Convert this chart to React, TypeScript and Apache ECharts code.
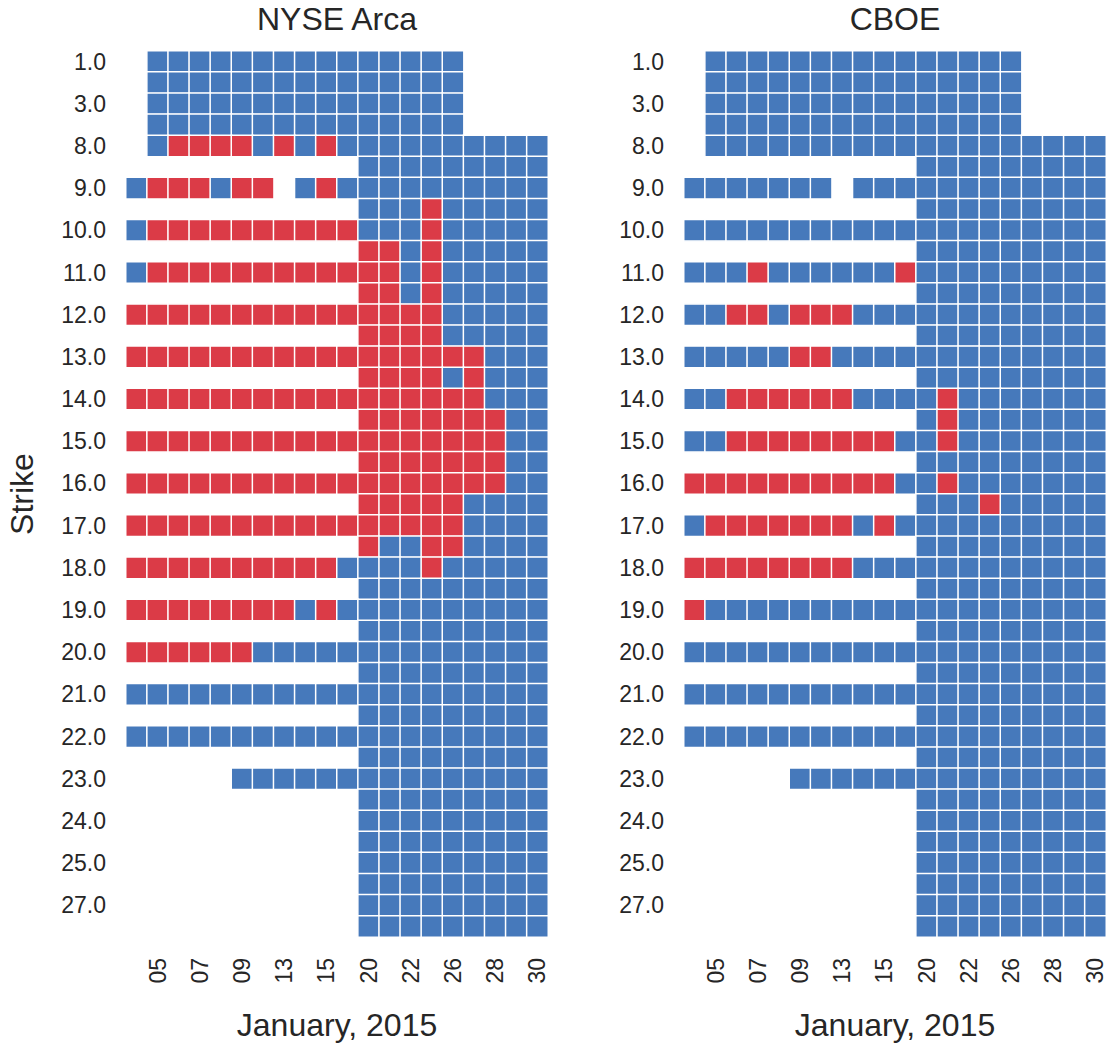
import React, { useEffect, useRef } from "react";
import * as echarts from "echarts";

// Trading days of January 2015 (columns)
const tradingDays = [
  "02", "05", "06", "07", "08", "09", "12", "13", "14", "15",
  "16", "20", "21", "22", "23", "26", "27", "28", "29", "30",
];

// Strike prices (rows, top to bottom)
const strikes = [
  "1.0", "2.0", "3.0", "5.0", "8.0", "8.5", "9.0", "9.5", "10.0", "10.5",
  "11.0", "11.5", "12.0", "12.5", "13.0", "13.5", "14.0", "14.5", "15.0", "15.5",
  "16.0", "16.5", "17.0", "17.5", "18.0", "18.5", "19.0", "19.5", "20.0", "20.5",
  "21.0", "21.5", "22.0", "22.5", "23.0", "23.5", "24.0", "24.5", "25.0", "26.0",
  "27.0", "28.0",
];

// One string per strike, one character per trading day:
// "B" = 0 (blue), "R" = 1 (red), "." = no quote
const nyseArcaRows = [
  ".BBBBBBBBBBBBBBB....",
  ".BBBBBBBBBBBBBBB....",
  ".BBBBBBBBBBBBBBB....",
  ".BBBBBBBBBBBBBBB....",
  ".BRRRRBRBRBBBBBBBBBB",
  "...........BBBBBBBBB",
  "BRRRBRR.BRBBBBBBBBBB",
  "...........BBBRBBBBB",
  "BRRRRRRRRRRBBBRBBBBB",
  "...........RRBRBBBBB",
  "BRRRRRRRRRRRRBRBBBBB",
  "...........RRBRBBBBB",
  "RRRRRRRRRRRRRRRBBBBB",
  "...........RRRRBBBBB",
  "RRRRRRRRRRRRRRRRRBBB",
  "...........RRRRBRBBB",
  "RRRRRRRRRRRRRRRRRBBB",
  "...........RRRRRRRBB",
  "RRRRRRRRRRRRRRRRRRBB",
  "...........RRRRRRRBB",
  "RRRRRRRRRRRRRRRRRRBB",
  "...........RRRRRBBBB",
  "RRRRRRRRRRRRRRRRBBBB",
  "...........RBBRRBBBB",
  "RRRRRRRRRRBBBBRBBBBB",
  "...........BBBBBBBBB",
  "RRRRRRRRBRBBBBBBBBBB",
  "...........BBBBBBBBB",
  "RRRRRRBBBBBBBBBBBBBB",
  "...........BBBBBBBBB",
  "BBBBBBBBBBBBBBBBBBBB",
  "...........BBBBBBBBB",
  "BBBBBBBBBBBBBBBBBBBB",
  "...........BBBBBBBBB",
  ".....BBBBBBBBBBBBBBB",
  "...........BBBBBBBBB",
  "...........BBBBBBBBB",
  "...........BBBBBBBBB",
  "...........BBBBBBBBB",
  "...........BBBBBBBBB",
  "...........BBBBBBBBB",
  "...........BBBBBBBBB",
];

const cboeRows = [
  ".BBBBBBBBBBBBBBB....",
  ".BBBBBBBBBBBBBBB....",
  ".BBBBBBBBBBBBBBB....",
  ".BBBBBBBBBBBBBBB....",
  ".BBBBBBBBBBBBBBBBBBB",
  "...........BBBBBBBBB",
  "BBBBBBB.BBBBBBBBBBBB",
  "...........BBBBBBBBB",
  "BBBBBBBBBBBBBBBBBBBB",
  "...........BBBBBBBBB",
  "BBBRBBBBBBRBBBBBBBBB",
  "...........BBBBBBBBB",
  "BBRRBRRRBBBBBBBBBBBB",
  "...........BBBBBBBBB",
  "BBBBBRRBBBBBBBBBBBBB",
  "...........BBBBBBBBB",
  "BBRRRRRRBBBBRBBBBBBB",
  "...........BRBBBBBBB",
  "BBRRRRRRRRBBRBBBBBBB",
  "...........BBBBBBBBB",
  "RRRRRRRRRRBBRBBBBBBB",
  "...........BBBRBBBBB",
  "BRRRRRRRBRBBBBBBBBBB",
  "...........BBBBBBBBB",
  "RRRRRRRRBBBBBBBBBBBB",
  "...........BBBBBBBBB",
  "RBBBBBBBBBBBBBBBBBBB",
  "...........BBBBBBBBB",
  "BBBBBBBBBBBBBBBBBBBB",
  "...........BBBBBBBBB",
  "BBBBBBBBBBBBBBBBBBBB",
  "...........BBBBBBBBB",
  "BBBBBBBBBBBBBBBBBBBB",
  "...........BBBBBBBBB",
  ".....BBBBBBBBBBBBBBB",
  "...........BBBBBBBBB",
  "...........BBBBBBBBB",
  "...........BBBBBBBBB",
  "...........BBBBBBBBB",
  "...........BBBBBBBBB",
  "...........BBBBBBBBB",
  "...........BBBBBBBBB",
];

const panelTitles = ["NYSE Arca", "CBOE"];
const xAxisTitle = "January, 2015";
const yAxisTitle = "Strike";

const BLUE = "#4679bb";
const RED = "#db3b47";
const TEXT = "#262626";
const FONT = "'Liberation Sans', Arial, Helvetica, sans-serif";
const TITLE_SIZE = 32;
const TICK_SIZE = 23;

function toCells(rows: string[]): number[][] {
  const cells: number[][] = [];
  rows.forEach((row, y) => {
    for (let x = 0; x < row.length; x++) {
      const c = row[x];
      if (c === ".") continue;
      cells.push([x, y, c === "R" ? 1 : 0]);
    }
  });
  return cells;
}

export default function App() {
  const ref = useRef<HTMLDivElement>(null);

  useEffect(() => {
    if (!ref.current) return;
    const chart = echarts.init(ref.current, null, { renderer: "svg" });

    const panels = [
      { title: panelTitles[0], rows: nyseArcaRows, left: 126 },
      { title: panelTitles[1], rows: cboeRows, left: 684 },
    ];
    const gridTop = 51;
    const gridW = 422;
    const gridH = 886;

    const textStyle = (text: string) => ({
      text,
      fill: TEXT,
      fontSize: TITLE_SIZE,
      fontFamily: FONT,
      align: "center",
      verticalAlign: "middle",
    });

    const graphic: any[] = [];
    panels.forEach((p) => {
      const cx = p.left + gridW / 2;
      graphic.push({ type: "text", x: cx, y: 19, style: textStyle(p.title) });
      graphic.push({ type: "text", x: cx, y: 1025, style: textStyle(xAxisTitle) });
    });
    graphic.push({
      type: "text",
      x: 22,
      y: gridTop + gridH / 2,
      rotation: Math.PI / 2,
      style: textStyle(yAxisTitle),
    });

    const option: any = {
      animation: false,
      backgroundColor: "#ffffff",
      textStyle: { fontFamily: FONT },
      grid: panels.map((p) => ({
        left: p.left,
        top: gridTop,
        width: gridW,
        height: gridH,
        containLabel: false,
        outerBoundsMode: "none",
      })),
      xAxis: panels.map((_, i) => ({
        type: "category",
        gridIndex: i,
        data: tradingDays,
        axisLine: { show: false },
        axisTick: { show: false },
        splitLine: { show: false },
        splitArea: { show: false },
        axisLabel: {
          rotate: 90,
          interval: (idx: number) => idx % 2 === 1,
          fontSize: TICK_SIZE,
          color: TEXT,
          fontFamily: FONT,
          margin: 21,
        },
      })),
      yAxis: panels.map((_, i) => ({
        type: "category",
        gridIndex: i,
        inverse: true,
        data: strikes,
        axisLine: { show: false },
        axisTick: { show: false },
        splitLine: { show: false },
        splitArea: { show: false },
        axisLabel: {
          interval: (idx: number) => idx % 2 === 0,
          fontSize: TICK_SIZE,
          color: TEXT,
          fontFamily: FONT,
          margin: 20,
        },
      })),
      visualMap: {
        type: "piecewise",
        show: false,
        dimension: 2,
        seriesIndex: [0, 1],
        pieces: [
          { value: 0, color: BLUE },
          { value: 1, color: RED },
        ],
      },
      series: panels.map((p, i) => ({
        type: "heatmap",
        name: p.title,
        xAxisIndex: i,
        yAxisIndex: i,
        data: toCells(p.rows),
        itemStyle: { borderColor: "#ffffff", borderWidth: 1.5 },
        emphasis: { disabled: true },
      })),
      graphic,
    };

    chart.setOption(option);
    return () => {
      chart.dispose();
    };
  }, []);

  return (
    <div
      ref={ref}
      style={{ position: "absolute", left: 0, top: 0, width: 1109, height: 1048 }}
    />
  );
}
